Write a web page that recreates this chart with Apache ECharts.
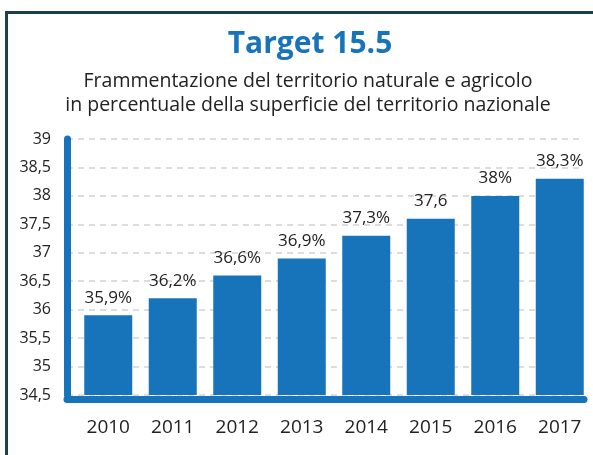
<!DOCTYPE html>
<html>
<head>
<meta charset="utf-8">
<script src="https://cdn.jsdelivr.net/npm/echarts@6/dist/echarts.min.js"></script>
<style>
  html, body { margin: 0; padding: 0; background: #fff; }
  #main { width: 593px; height: 455px; }
</style>
</head>
<body>
<div id="main"></div>
<script>
// dati
var anni = ['2010', '2011', '2012', '2013', '2014', '2015', '2016', '2017'];
var valori = [35.9, 36.2, 36.6, 36.9, 37.3, 37.6, 38.0, 38.3];
var etichette = ['35,9%', '36,2%', '36,6%', '36,9%', '37,3%', '37,6', '38%', '38,3%'];

var blu = '#1774bb';
var testo = '#222222';
var font = '"Open Sans", "DejaVu Sans", sans-serif';

var myChart = echarts.init(document.getElementById('main'), null, { renderer: 'canvas' });

var option = {
  animation: false,
  backgroundColor: '#ffffff',
  graphic: [{
    type: 'rect',
    shape: { x: 6.5, y: 12.5, width: 700, height: 600 },
    style: { fill: 'none', stroke: '#1c3f4e', lineWidth: 3 },
    z: 0
  }],
  title: [{
    text: 'Target 15.5',
    left: 305,
    top: 24,
    textAlign: 'center',
    textStyle: { color: blu, fontFamily: font, fontWeight: 'bold', fontSize: 30 }
  }, {
    text: 'Frammentazione del territorio naturale e agricolo\nin percentuale della superficie del territorio nazionale',
    left: 303,
    top: 64,
    textAlign: 'center',
    textStyle: { color: testo, fontFamily: font, fontWeight: 'normal', fontSize: 19.5, lineHeight: 24 }
  }],
  grid: [
    { left: 76, right: 1, top: 139, bottom: 60 },   // barre
    { left: 67, right: 9, top: 139, bottom: 60 }    // assi
  ],
  xAxis: [{
    type: 'category',
    gridIndex: 0,
    data: anni,
    axisLine: { show: false },
    axisTick: { show: false },
    axisLabel: { color: testo, fontFamily: font, fontSize: 19, margin: 23 }
  }, {
    type: 'value',
    gridIndex: 1,
    min: 0, max: 1,
    offset: 4,
    axisLine: { show: true, lineStyle: { color: blu, width: 7, cap: 'round' } },
    axisTick: { show: false },
    axisLabel: { show: false },
    splitLine: { show: false }
  }],
  yAxis: [{
    type: 'value',
    gridIndex: 0,
    min: 34.5, max: 39, interval: 0.5,
    axisLine: { show: false },
    axisTick: { show: false },
    axisLabel: { show: false },
    splitLine: { show: false }
  }, {
    type: 'value',
    gridIndex: 1,
    min: 34.5, max: 39, interval: 0.5,
    axisLine: { show: true, lineStyle: { color: blu, width: 7, cap: 'round' } },
    axisTick: { show: false },
    axisLabel: {
      color: testo, fontFamily: font, fontSize: 16, margin: 16,
      formatter: function (v) { return String(v).replace('.', ','); }
    },
    splitLine: { show: true, lineStyle: { color: '#d2d2d2', width: 1.5, type: [6, 5] } }
  }],
  series: [{
    type: 'bar',
    xAxisIndex: 0,
    yAxisIndex: 0,
    data: valori,
    barWidth: 48,
    itemStyle: { color: blu },
    z: 3,
    label: {
      show: true,
      position: 'top',
      distance: 9,
      color: testo,
      fontFamily: font,
      fontSize: 17,
      formatter: function (p) { return etichette[p.dataIndex]; }
    }
  }]
};

myChart.setOption(option);
</script>
</body>
</html>
